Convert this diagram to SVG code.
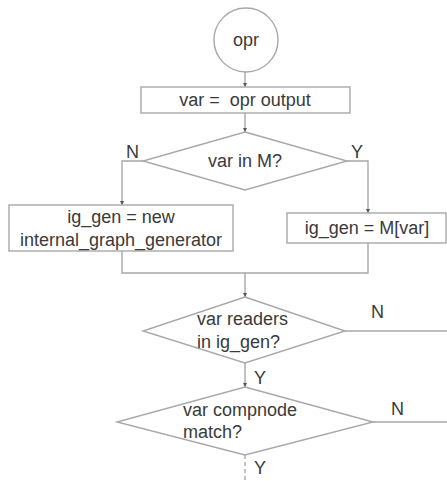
<svg xmlns="http://www.w3.org/2000/svg" width="447" height="481" viewBox="0 0 447 481">
<defs>
<style>
.s{fill:#fff;stroke:#a8a8a8;stroke-width:1.4}
.c{fill:none;stroke:#a8a8a8;stroke-width:1.4}
.t{font-family:"Liberation Sans",Arial,sans-serif;font-size:18px;fill:#3a3a3a;white-space:pre}
.m{text-anchor:middle}
</style>
<marker id="a" viewBox="0 0 4 4" refX="4" refY="2" markerWidth="3" markerHeight="3" orient="auto">
<path d="M0,0 L4,2 L0,4 Z" fill="#555"/>
</marker>
</defs>
<rect width="447" height="481" fill="#fff"/>
<g id="connectors">
<line class="c" x1="245" y1="72" x2="245" y2="87" marker-end="url(#a)"/>
<line class="c" x1="245" y1="113" x2="245" y2="132" marker-end="url(#a)"/>
<polyline class="c" points="143,161 122,161 122,205" marker-end="url(#a)"/>
<polyline class="c" points="347,161 368,161 368,213" marker-end="url(#a)"/>
<polyline class="c" points="122,251 122,273 368,273 368,243"/>
<line class="c" x1="245" y1="273" x2="245" y2="297" marker-end="url(#a)"/>
<line class="c" x1="345" y1="331" x2="447" y2="331"/>
<line class="c" x1="245" y1="363" x2="245" y2="387" marker-end="url(#a)"/>
<line class="c" x1="373" y1="422" x2="447" y2="422"/>
<line class="c" x1="245" y1="455" x2="245" y2="481" stroke-dasharray="4,3"/>
<text class="t" x="126" y="158">N</text>
<text class="t" x="351" y="158">Y</text>
<text class="t" x="371" y="318">N</text>
<text class="t" x="254" y="384">Y</text>
<text class="t" x="391" y="415">N</text>
<text class="t" x="254" y="474">Y</text>
</g>
<g id="opr">
<circle class="s" cx="246" cy="40" r="32"/>
<text class="t m" x="246" y="46">opr</text>
</g>
<g id="assign">
<rect class="s" x="141" y="87" width="209" height="26"/>
<text class="t m" x="245" y="106" xml:space="preserve">var =  opr output</text>
</g>
<g id="inM">
<polygon class="s" points="245,132 347,161 245,190 143,161"/>
<text class="t m" x="245" y="167">var in M?</text>
</g>
<g id="newgen">
<rect class="s" x="9" y="205" width="224" height="46"/>
<text class="t m" x="121" y="223">ig_gen = new</text>
<text class="t m" x="121" y="246">internal_graph_generator</text>
</g>
<g id="mvar">
<rect class="s" x="287" y="213" width="159" height="30"/>
<text class="t m" x="367" y="234">ig_gen = M[var]</text>
</g>
<g id="readers">
<polygon class="s" points="245,297 345,331 245,363 143,331"/>
<text class="t" x="197" y="325">var readers</text>
<text class="t" x="197" y="348">in ig_gen?</text>
</g>
<g id="compnode">
<polygon class="s" points="245,387 373,422 245,455 117,422"/>
<text class="t" x="183" y="416">var compnode</text>
<text class="t" x="183" y="438">match?</text>
</g>
</svg>
